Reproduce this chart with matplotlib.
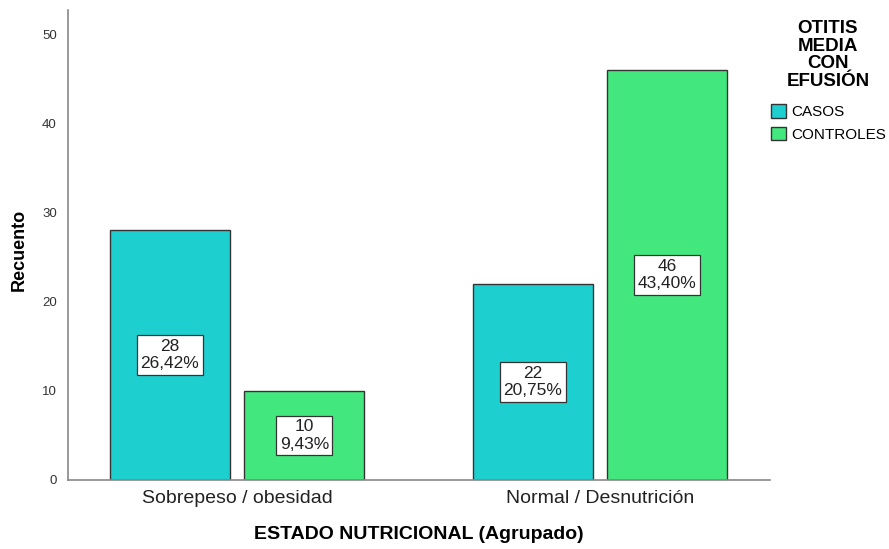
import numpy as np
import matplotlib
matplotlib.use('Agg')
import matplotlib.pyplot as plt

plt.rcParams['font.family'] = ['Liberation Sans', 'DejaVu Sans']

# Recuento por estado nutricional y grupo
categorias = ['Sobrepeso / obesidad', 'Normal / Desnutrición']
grupos = ['CASOS', 'CONTROLES']
casos = [28, 22]
controles = [10, 46]
pct_casos = ['26,42%', '20,75%']
pct_controles = ['9,43%', '43,40%']
colores = ['#1ecfcf', '#42e87e']

fig = plt.figure(figsize=(8.89, 5.49), dpi=100)
ax = fig.add_axes([68 / 889, 69 / 549, 702 / 889, 470 / 549])

x = np.arange(len(categorias))
ancho = 0.33
offset = 0.185
series = [(casos, pct_casos), (controles, pct_controles)]
for i, (vals, pcts) in enumerate(series):
    pos = x + (-offset if i == 0 else offset)
    ax.bar(pos, vals, width=ancho, color=colores[i], edgecolor='#333333',
           linewidth=1.0, label=grupos[i], zorder=2)
    for xp, v, p in zip(pos, vals, pcts):
        ax.text(xp, v / 2, f'{v}\n{p}', ha='center', va='center',
                fontsize=12.5, color='#222222', linespacing=1.2, zorder=3,
                bbox=dict(boxstyle='square,pad=0.2', fc='white',
                          ec='#333333', lw=0.9))

ax.set_xlim(-0.466, 1.468)
ax.set_ylim(0, 52.7)
ax.set_yticks([0, 10, 20, 30, 40, 50])
ax.set_xticks(x)
ax.set_xticklabels(categorias, fontsize=14, color='#222222')
ax.tick_params(axis='y', length=0, pad=8, labelsize=9.5, labelcolor='#333333')
ax.tick_params(axis='x', length=0, pad=7)

for s in ['top', 'right']:
    ax.spines[s].set_visible(False)
for s in ['left', 'bottom']:
    ax.spines[s].set_color('#888888')
    ax.spines[s].set_linewidth(1.2)

ax.set_ylabel('Recuento', fontsize=13, fontweight='bold')
ax.yaxis.set_label_coords(-0.057, 0.49)
ax.set_xlabel('ESTADO NUTRICIONAL (Agrupado)', fontsize=14,
              fontweight='bold', labelpad=14)

leg = fig.legend(loc='upper left', bbox_to_anchor=(771 / 889, 1 - 104 / 549),
                 frameon=False, fontsize=11, handlelength=1.0,
                 handleheight=1.0, handletextpad=0.3, labelspacing=0.5,
                 borderaxespad=0, borderpad=0)
for h in leg.legend_handles:
    h.set_edgecolor('#333333')
fig.text(828 / 889, 1 - 20 / 549, 'OTITIS\nMEDIA\nCON\nEFUSIÓN',
         ha='center', va='top', fontsize=13.5, fontweight='bold',
         linespacing=1.05)

fig.savefig('out.png', dpi=100)
